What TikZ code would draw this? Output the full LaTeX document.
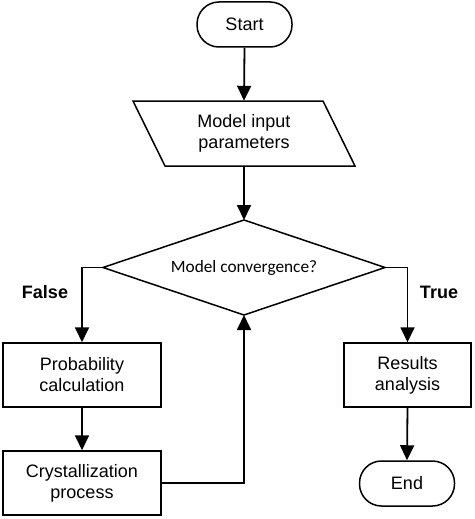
\documentclass[tikz,border=0pt]{standalone}
\usepackage{fontspec}
\setmainfont{Liberation Sans}
\newfontfamily\carlitofont{Carlito}
\usetikzlibrary{arrows.meta}
\begin{document}
\begin{tikzpicture}[x=1pt,y=-1pt,
  every node/.style={font=\fontsize{18}{21}\selectfont, inner sep=0pt, align=center},
  pill/.style={draw, line width=1.5pt, rounded corners=22pt, minimum width=95pt, minimum height=45pt},
  procbox/.style={draw, line width=1.5pt, minimum height=64pt},
  arr/.style={line width=1.8pt, -{Triangle[length=15pt,width=14pt]}},
  shp/.style={line width=1.5pt},
  lbl/.style={font=\fontsize{18}{21}\selectfont\bfseries}]
\useasboundingbox (0,0) rectangle (474,519);
% Start
\node[pill] (start) at (244.5,24.5) {Start};
% parallelogram
\node[minimum width=222pt, minimum height=65pt] (par) at (244,133.5) {Model input\\parameters};
\draw[shp] (133,101) -- (323,101) -- (355,166) -- (165,166) -- cycle;
% diamond
\coordinate (dtop) at (244,220);
\coordinate (dleft) at (103,267.5);
\coordinate (dright) at (385,267.5);
\coordinate (dbot) at (244,315);
\draw[shp] (dtop) -- (dright) -- (dbot) -- (dleft) -- cycle;
\node[font=\carlitofont\fontsize{17.3}{20}\selectfont] (dtext) at (244,267.5) {Model convergence?};
% boxes
\node[procbox, minimum width=158pt] (prob) at (82,375) {Probability\\calculation};
\node[procbox, minimum width=158pt] (cry) at (82,483) {Crystallization\\process};
\node[procbox, minimum width=127pt] (res) at (407.5,375) {Results\\analysis};
\node[pill] (end) at (407,483.5) {End};
% labels
\node[lbl] (false) at (45,292) {False};
\node[lbl] (true) at (439,292) {True};
% connectors
\draw[arr] (start.south) -- (par.north);
\draw[arr] (par.south) -- (dtop);
\draw[arr] (dleft) -| (prob.north);
\draw[arr] (dright) -| (res.north);
\draw[arr] (prob.south) -- (cry.north);
\draw[arr] (cry.east) -| (dbot);
\draw[arr] (res.south) -- (end.north);
\end{tikzpicture}
\end{document}
